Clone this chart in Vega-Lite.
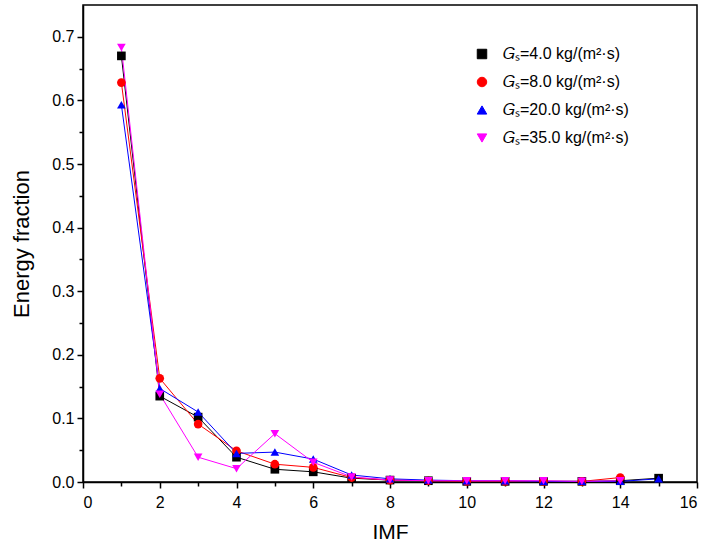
{
  "$schema": "https://vega.github.io/schema/vega-lite/v6.json",
  "width": 614,
  "height": 477,
  "autosize": "none",
  "padding": {"left": 83, "top": 5, "right": 10, "bottom": 63},
  "background": "white",
  "config": {
    "view": {"stroke": "black", "strokeWidth": 1.5},
    "font": "Liberation Sans",
    "axis": {"grid": false, "domainColor": "black", "domainWidth": 1.5, "tickColor": "black", "tickWidth": 1.5, "labelColor": "black", "titleColor": "black", "labelFont": "Liberation Sans", "titleFont": "Liberation Sans", "labelFontSize": 16, "titleFontSize": 21, "titleFontWeight": "normal"}
  },
  "data": {"values": [
    {"IMF": 1, "s": "4.0", "v": 0.670}, {"IMF": 2, "s": "4.0", "v": 0.135}, {"IMF": 3, "s": "4.0", "v": 0.102}, {"IMF": 4, "s": "4.0", "v": 0.039}, {"IMF": 5, "s": "4.0", "v": 0.020}, {"IMF": 6, "s": "4.0", "v": 0.016}, {"IMF": 7, "s": "4.0", "v": 0.006}, {"IMF": 8, "s": "4.0", "v": 0.003}, {"IMF": 9, "s": "4.0", "v": 0.002}, {"IMF": 10, "s": "4.0", "v": 0.001}, {"IMF": 11, "s": "4.0", "v": 0.001}, {"IMF": 12, "s": "4.0", "v": 0.001}, {"IMF": 13, "s": "4.0", "v": 0.001}, {"IMF": 14, "s": "4.0", "v": 0.002}, {"IMF": 15, "s": "4.0", "v": 0.006},
    {"IMF": 1, "s": "8.0", "v": 0.628}, {"IMF": 2, "s": "8.0", "v": 0.163}, {"IMF": 3, "s": "8.0", "v": 0.091}, {"IMF": 4, "s": "8.0", "v": 0.049}, {"IMF": 5, "s": "8.0", "v": 0.028}, {"IMF": 6, "s": "8.0", "v": 0.023}, {"IMF": 7, "s": "8.0", "v": 0.007}, {"IMF": 8, "s": "8.0", "v": 0.003}, {"IMF": 9, "s": "8.0", "v": 0.002}, {"IMF": 10, "s": "8.0", "v": 0.001}, {"IMF": 11, "s": "8.0", "v": 0.001}, {"IMF": 12, "s": "8.0", "v": 0.001}, {"IMF": 13, "s": "8.0", "v": 0.001}, {"IMF": 14, "s": "8.0", "v": 0.007},
    {"IMF": 1, "s": "20.0", "v": 0.593}, {"IMF": 2, "s": "20.0", "v": 0.147}, {"IMF": 3, "s": "20.0", "v": 0.110}, {"IMF": 4, "s": "20.0", "v": 0.045}, {"IMF": 5, "s": "20.0", "v": 0.047}, {"IMF": 6, "s": "20.0", "v": 0.036}, {"IMF": 7, "s": "20.0", "v": 0.011}, {"IMF": 8, "s": "20.0", "v": 0.005}, {"IMF": 9, "s": "20.0", "v": 0.003}, {"IMF": 10, "s": "20.0", "v": 0.002}, {"IMF": 11, "s": "20.0", "v": 0.002}, {"IMF": 12, "s": "20.0", "v": 0.001}, {"IMF": 13, "s": "20.0", "v": 0.001}, {"IMF": 14, "s": "20.0", "v": 0.001}, {"IMF": 15, "s": "20.0", "v": 0.005},
    {"IMF": 1, "s": "35.0", "v": 0.683}, {"IMF": 2, "s": "35.0", "v": 0.138}, {"IMF": 3, "s": "35.0", "v": 0.039}, {"IMF": 4, "s": "35.0", "v": 0.021}, {"IMF": 5, "s": "35.0", "v": 0.076}, {"IMF": 6, "s": "35.0", "v": 0.031}, {"IMF": 7, "s": "35.0", "v": 0.008}, {"IMF": 8, "s": "35.0", "v": 0.003}, {"IMF": 9, "s": "35.0", "v": 0.002}, {"IMF": 10, "s": "35.0", "v": 0.002}, {"IMF": 11, "s": "35.0", "v": 0.002}, {"IMF": 12, "s": "35.0", "v": 0.002}, {"IMF": 13, "s": "35.0", "v": 0.001}, {"IMF": 14, "s": "35.0", "v": 0.002}
  ]},
  "resolve": {"axis": {"x": "independent", "y": "independent"}},
  "layer": [
    {
      "mark": {"type": "line", "strokeWidth": 1, "clip": true},
      "encoding": {
        "x": {"field": "IMF", "type": "quantitative", "scale": {"domain": [0, 16], "nice": false, "zero": false}, "axis": {"title": "IMF", "values": [0, 2, 4, 6, 8, 10, 12, 14, 16], "tickSize": 6, "labelPadding": 6, "titlePadding": 11, "orient": "bottom"}},
        "y": {"field": "v", "type": "quantitative", "scale": {"domain": [0, 0.75], "nice": false}, "axis": {"title": "Energy fraction", "titleFontSize": 22, "values": [0, 0.1, 0.2, 0.3, 0.4, 0.5, 0.6, 0.7], "format": ".1f", "tickSize": 6, "labelPadding": 3, "titlePadding": 18, "orient": "left"}},
        "color": {"field": "s", "type": "nominal", "sort": ["4.0", "8.0", "20.0", "35.0"], "scale": {"domain": ["4.0", "8.0", "20.0", "35.0"], "range": ["#000000", "#ff0000", "#0000ff", "#ff00ff"]}, "legend": {
          "orient": "none", "legendX": 391, "legendY": 41, "title": null,
          "labelExpr": "'𝐺ₛ=' + datum.label + ' kg/(m²·s)'",
          "labelFontSize": 16, "labelFont": "Liberation Sans", "labelColor": "black",
          "rowPadding": 12, "symbolSize": 90, "labelOffset": 13, "symbolStrokeWidth": 1
        }}
      }
    },
    {
      "mark": {"type": "point", "filled": true, "size": 75, "opacity": 1},
      "encoding": {
        "x": {"field": "IMF", "type": "quantitative", "axis": {"title": null, "values": [1, 3, 5, 7, 9, 11, 13, 15], "labels": false, "domain": false, "tickSize": 4, "orient": "bottom"}},
        "y": {"field": "v", "type": "quantitative", "axis": {"title": null, "values": [0.05, 0.15, 0.25, 0.35, 0.45, 0.55, 0.65], "labels": false, "domain": false, "tickSize": 4, "orient": "left"}},
        "color": {"field": "s", "type": "nominal", "sort": ["4.0", "8.0", "20.0", "35.0"]},
        "shape": {"field": "s", "type": "nominal", "sort": ["4.0", "8.0", "20.0", "35.0"], "scale": {"domain": ["4.0", "8.0", "20.0", "35.0"], "range": ["square", "circle", "triangle-up", "triangle-down"]}}
      }
    }
  ]
}
